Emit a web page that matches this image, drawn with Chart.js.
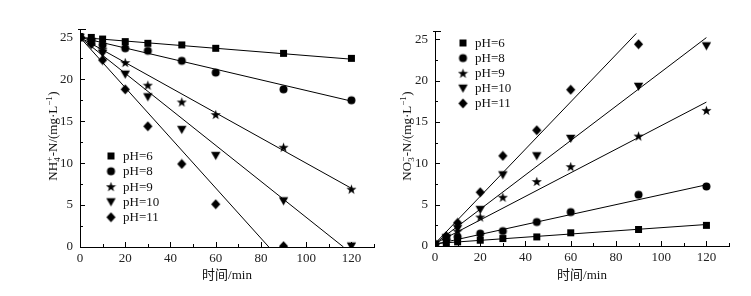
<!DOCTYPE html>
<html>
<head>
<meta charset="utf-8">
<script src="https://cdn.jsdelivr.net/npm/chart.js@4/dist/chart.umd.min.js"></script>
<style>
html, body { margin: 0; padding: 0; background: #fff; }
#wrap { position: relative; width: 751px; height: 296px; }
.box { position: absolute; top: 0; height: 296px; }
</style>
</head>
<body>
<div id="wrap">
    <div class="box" style="left:0;width:380px"><canvas id="nh4-chart" width="380" height="296"></canvas></div>
    <div class="box" style="left:380px;width:371px"><canvas id="no3-chart" width="371" height="296"></canvas></div>
</div>
<script>
// Sampling times (min) and series names
const times = [0, 5, 10, 20, 30, 45, 60, 90, 120];
const seriesNames = ['pH=6', 'pH=8', 'pH=9', 'pH=10', 'pH=11'];
const xTicks = [0, 20, 40, 60, 80, 100, 120];
const yTicks = [0, 5, 10, 15, 20, 25];

// NH4+-N (mg/L), one array per pH
const nh4pH6 = [25.1, 25.0, 24.8, 24.5, 24.3, 24.1, 23.7, 23.1, 22.5];
const nh4pH8 = [25.0, 24.5, 24.1, 23.7, 23.4, 22.2, 20.8, 18.8, 17.5];
const nh4pH9 = [25.0, 24.6, 23.6, 22.0, 19.3, 17.3, 15.8, 11.9, 6.9];
const nh4pH10 = [25.0, 24.5, 23.1, 20.6, 17.9, 14.0, 10.9, 5.5, 0.1];
const nh4pH11 = [25.0, 24.2, 22.3, 18.8, 14.4, 9.9, 5.1, 0.1, null];

// Linear fits for NH4+-N: [x0, y0, x1, y1]
const nh4Fit6 = [0, 25.0, 120, 22.4];
const nh4Fit8 = [0, 25.0, 120, 17.4];
const nh4Fit9 = [0, 25.0, 120, 7.0];
const nh4Fit10 = [0, 25.0, 116.5, 0];
const nh4Fit11 = [0, 25.0, 83.5, 0];

// NO3--N (mg/L), one array per pH
const no3pH6 = [0.2, 0.3, 0.5, 0.7, 0.9, 1.1, 1.6, 2.0, 2.5];
const no3pH8 = [0.2, 0.9, 1.1, 1.5, 1.8, 2.9, 4.1, 6.2, 7.2];
const no3pH9 = [0.2, 0.7, 1.8, 3.5, 5.9, 7.8, 9.6, 13.3, 16.4];
const no3pH10 = [0.2, 1.0, 2.1, 4.4, 8.6, 10.9, 13.0, 19.3, 24.2];
const no3pH11 = [0.2, 1.2, 2.8, 6.5, 10.9, 14.0, 18.9, 24.4, null];

// Linear fits for NO3--N: [x0, y0, x1, y1]
const no3Fit6 = [0, 0.3, 120, 2.6];
const no3Fit8 = [0, 0.2, 120, 7.4];
const no3Fit9 = [0, 0.3, 120, 17.4];
const no3Fit10 = [0, 0.3, 120, 25.2];
const no3Fit11 = [0, 0.3, 89, 25.7];

const serif = "'Liberation Serif', 'Times New Roman', 'Noto Sans CJK SC', serif";

// Small filled marker images (Chart.js accepts a canvas as pointStyle)
function makeMarker(shape) {
    const c = document.createElement('canvas');
    c.width = 11;
    c.height = 11;
    const g = c.getContext('2d');
    const m = 5.5;
    g.fillStyle = '#000';
    g.beginPath();
    if (shape === 'square') {
        g.rect(m - 3.5, m - 3.5, 7, 7);
    } else if (shape === 'circle') {
        g.arc(m, m, 4, 0, Math.PI * 2);
    } else if (shape === 'star') {
        for (let i = 0; i < 10; i += 1) {
            const r = i % 2 ? 2.1 : 5.3;
            const a = -Math.PI / 2 + i * Math.PI / 5;
            g.lineTo(m + r * Math.cos(a), m + 0.5 + r * Math.sin(a));
        }
        g.closePath();
    } else if (shape === 'tri') {
        g.moveTo(m - 4.7, m - 3.7);
        g.lineTo(m + 4.7, m - 3.7);
        g.lineTo(m, m + 4.5);
        g.closePath();
    } else {
        g.moveTo(m, m - 5);
        g.lineTo(m + 4.6, m);
        g.lineTo(m, m + 5);
        g.lineTo(m - 4.6, m);
        g.closePath();
    }
    g.fill();
    return c;
}
const markers = ['square', 'circle', 'star', 'tri', 'diamond'].map(makeMarker);

// Draw a string made of normal / sub / sup pieces, centred on 0
function drawRich(ctx, parts, size) {
    const big = `${size}px ${serif}`;
    const small = `${Math.round(size * 0.7)}px ${serif}`;
    const widths = parts.map((p) => {
        if (p.t) { ctx.font = big; return ctx.measureText(p.t).width; }
        ctx.font = small;
        return Math.max(p.sub ? ctx.measureText(p.sub).width : 0, p.sup ? ctx.measureText(p.sup).width : 0) + 0.5;
    });
    let x = -widths.reduce((a, b) => a + b, 0) / 2;
    ctx.textBaseline = 'alphabetic';
    ctx.textAlign = 'left';
    parts.forEach((p, i) => {
        if (p.t) {
            ctx.font = big;
            ctx.fillText(p.t, x, size * 0.35);
        } else {
            ctx.font = small;
            if (p.sub) ctx.fillText(p.sub, x, size * 0.35 + 3);
            if (p.sup) ctx.fillText(p.sup, x, size * 0.35 - 5);
        }
        x += widths[i];
    });
}

// Inward ticks, axis titles and the legend
const decorPlugin = {
    id: 'decor',
    afterDraw(chart, args, opts) {
        const { ctx, chartArea: a, scales: { x, y } } = chart;
        ctx.save();
        ctx.strokeStyle = '#000';
        ctx.lineWidth = 1;
        ctx.beginPath();
        for (let v = 0; v <= 130; v += 10) {
            const px = Math.round(x.getPixelForValue(v)) + 0.5;
            const len = v % 20 === 0 ? 5 : 3;
            ctx.moveTo(px, a.bottom);
            ctx.lineTo(px, a.bottom - len);
        }
        for (let v = 0; v <= 25; v += 2.5) {
            const py = Math.round(y.getPixelForValue(v)) + 0.5;
            const len = v % 5 === 0 ? 5 : 3;
            ctx.moveTo(a.left, py);
            ctx.lineTo(a.left + len, py);
        }
        ctx.moveTo(a.left - 2, Math.round(a.top) + 0.5);
        ctx.lineTo(a.left + 6, Math.round(a.top) + 0.5);
        ctx.stroke();

        ctx.fillStyle = '#111';
        // x title
        ctx.font = `13px ${serif}`;
        ctx.textAlign = 'center';
        ctx.textBaseline = 'middle';
        ctx.fillText('时间/min', (a.left + a.right) / 2, opts.xTitleY);

        // y title (rotated)
        ctx.save();
        ctx.translate(opts.yTitleX, opts.yTitleY);
        ctx.rotate(-Math.PI / 2);
        drawRich(ctx, opts.yTitle, 13);
        ctx.restore();

        // legend
        ctx.font = `13px ${serif}`;
        ctx.textAlign = 'left';
        ctx.textBaseline = 'middle';
        seriesNames.forEach((name, i) => {
            const ly = opts.legendY + i * opts.legendGap;
            ctx.drawImage(markers[i], opts.legendX - 5.5, ly - 5.5);
            ctx.fillText(name, opts.legendX + 12, ly + 0.5);
        });
        ctx.restore();
    },
};

function pointsOf(values) {
    return times.map((t, i) => ({ x: t, y: values[i] })).filter(p => p.y !== null);
}

function fitOf(fit) {
    return [{ x: fit[0], y: fit[1] }, { x: fit[2], y: fit[3] }];
}

function buildChart(canvasId, seriesList, fitList, layout) {
    const datasets = [];
    seriesList.forEach((values, i) => {
        datasets.push({
            label: seriesNames[i],
            data: pointsOf(values),
            pointStyle: markers[i],
            pointRadius: 5,
            showLine: false,
        });
    });
    fitList.forEach((fit) => {
        datasets.push({
            data: fitOf(fit),
            showLine: true,
            pointRadius: 0,
            borderColor: '#000',
            borderWidth: 1,
        });
    });

    const tickFont = { family: serif, size: 13 };
    return new Chart(document.getElementById(canvasId), {
        type: 'scatter',
        data: { datasets },
        options: {
            responsive: false,
            animation: false,
            devicePixelRatio: 1,
            layout: { padding: { top: layout.top, right: layout.right, left: 0, bottom: 0 } },
            plugins: {
                legend: { display: false },
                tooltip: { enabled: false },
                decor: layout.decor,
            },
            scales: {
                x: {
                    type: 'linear',
                    min: 0,
                    max: 130,
                    afterBuildTicks: (s) => { s.ticks = xTicks.map(v => ({ value: v })); },
                    ticks: { font: tickFont, color: '#222', padding: 4, maxRotation: 0 },
                    grid: { display: false, drawTicks: false },
                    border: { display: true, color: '#000', width: 1 },
                    afterFit: (s) => { s.height = layout.bottom; },
                },
                y: {
                    type: 'linear',
                    min: 0,
                    max: 26,
                    afterBuildTicks: (s) => { s.ticks = yTicks.map(v => ({ value: v })); },
                    ticks: { font: tickFont, color: '#222', padding: 7 },
                    grid: { display: false, drawTicks: false },
                    border: { display: true, color: '#000', width: 1 },
                    afterFit: (s) => { s.width = layout.left; },
                },
            },
        },
        plugins: [decorPlugin],
    });
}

buildChart('nh4-chart',
    [nh4pH6, nh4pH8, nh4pH9, nh4pH10, nh4pH11],
    [nh4Fit6, nh4Fit8, nh4Fit9, nh4Fit10, nh4Fit11],
    {
        top: 29, right: 2, left: 80, bottom: 49,
        decor: {
            xTitleY: 276,
            yTitleX: 52,
            yTitleY: 136,
            yTitle: [{ t: 'NH' }, { sub: '4', sup: '+' }, { t: '-N/(mg·L' }, { sup: '−1' }, { t: ')' }],
            legendX: 111,
            legendY: 156,
            legendGap: 15.3,
        },
    });

buildChart('no3-chart',
    [no3pH6, no3pH8, no3pH9, no3pH10, no3pH11],
    [no3Fit6, no3Fit8, no3Fit9, no3Fit10, no3Fit11],
    {
        top: 31, right: 22, left: 55, bottom: 50,
        decor: {
            xTitleY: 276,
            yTitleX: 26,
            yTitleY: 136,
            yTitle: [{ t: 'NO' }, { sub: '3', sup: '−' }, { t: '-N/(mg·L' }, { sup: '−1' }, { t: ')' }],
            legendX: 83,
            legendY: 43,
            legendGap: 15.1,
        },
    });
</script>
</body>
</html>
